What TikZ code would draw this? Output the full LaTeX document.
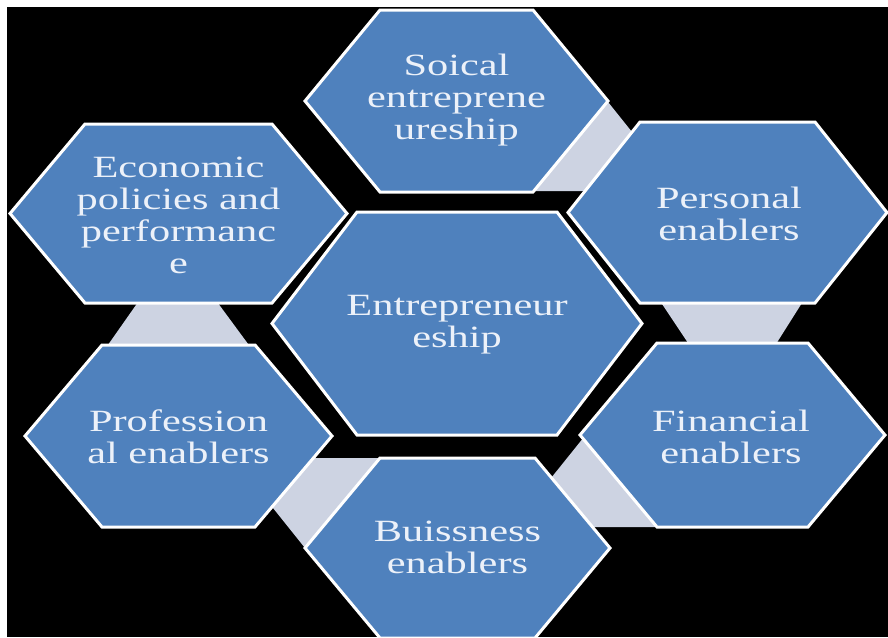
\documentclass[tikz,border=0pt]{standalone}
\usepackage{fontspec}
\newfontfamily\cellfont[FakeStretch=1.37]{Liberation Serif}

\definecolor{cellblue}{RGB}{79,129,189}
\definecolor{linkgray}{RGB}{205,211,226}
\definecolor{celltext}{RGB}{236,241,249}

\begin{document}
\begin{tikzpicture}[x=0.25mm, y=-0.25mm,
    cell/.style={fill=cellblue, draw=white, line width=0.75mm, line join=miter},
    link/.style={fill=linkgray},
    word/.style={text=celltext, align=center,
                 font=\cellfont\fontsize{22}{22.8}\selectfont}]

% -----------------------------
% Frame and black backdrop
% -----------------------------
\useasboundingbox (0,0) rectangle (888,637);
\clip (0,0) rectangle (888,637);
\fill[white] (0,0) rectangle (888,637);
\fill[black] (7,7) rectangle (888,637);

% -----------------------------
% Light bands between neighbours (drawn first, cells cover them)
% -----------------------------
\fill[link] (592,82) -- (640,142) -- (600,191) -- (520,191) -- cycle;   % social - personal
\fill[link] (656,295) -- (807,295) -- (771,352) -- (694,352) -- cycle;  % personal - financial
\fill[link] (535,498) -- (584,437) -- (700,527) -- (570,527) -- cycle;  % financial - business
\fill[link] (300,458) -- (400,458) -- (321,568) -- (265,498) -- cycle;  % business - professional
\fill[link] (143,295) -- (212,295) -- (254,352) -- (103,352) -- cycle;  % professional - economic

% -----------------------------
% Hexagon cells: centre x / centre y / half width / half height / inset
% -----------------------------
\foreach \cx/\cy/\hw/\hh/\ins in {456.5/101/151.5/91/75,
                                  178.5/213.5/168.5/89.5/75,
                                  727.5/212.5/159.5/90.5/72,
                                  457/323.5/185/111.5/85,
                                  178.5/436/153.5/91/77,
                                  732.5/435/152.5/92/77,
                                  457.5/548/152.5/90/75} {
    \draw[cell] (\cx-\hw,\cy) -- (\cx-\hw+\ins,\cy-\hh) -- (\cx+\hw-\ins,\cy-\hh)
        -- (\cx+\hw,\cy) -- (\cx+\hw-\ins,\cy+\hh) -- (\cx-\hw+\ins,\cy+\hh) -- cycle;
}

% -----------------------------
% Labels
% -----------------------------
\node[word] (soc)  at (456.5,100) {Soical\\entreprene\\ureship};
\node[word] (econ) at (178.5,215) {Economic\\policies and\\performanc\\e};
\node[word] (pers) at (729,214)   {Personal\\enablers};
\node[word] (ent)  at (457,325)   {Entrepreneur\\eship};
\node[word] (prof) at (178.5,437) {Profession\\al enablers};
\node[word] (fin)  at (731,437)   {Financial\\enablers};
\node[word] (buis) at (457.5,547) {Buissness\\enablers};

\end{tikzpicture}
\end{document}
